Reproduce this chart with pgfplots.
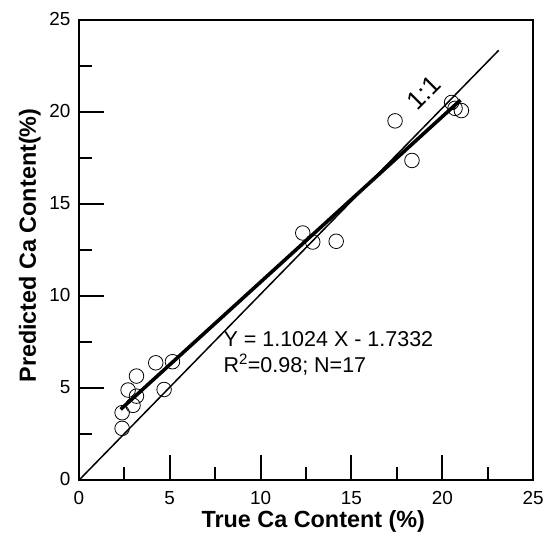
\documentclass[border=0pt]{standalone}
\usepackage{fontspec}
\setmainfont{Liberation Sans}
\usepackage{pgfplots}
\pgfplotsset{compat=1.18}
\begin{document}
\begin{tikzpicture}
\begin{axis}[
  scale only axis,
  width=455bp, height=461bp,
  xmin=0, xmax=25, ymin=0, ymax=25,
  xtick={0,5,...,25}, ytick={0,5,...,25},
  minor tick num=1,
  tick align=inside,
  xtick pos=bottom, ytick pos=left,
  major tick length=25bp, minor tick length=13bp,
  every tick/.style={black, line width=2pt},
  axis line style={line width=2pt},
  /pgf/number format/assume math mode=true,
  tick label style={font=\fontsize{19}{20}\selectfont},
  xticklabel style={yshift=-8bp},
  yticklabel style={xshift=-5bp, yshift=1bp},
  xlabel={\textbf{True Ca Content (\%)}},
  ylabel={\textbf{Predicted Ca Content(\%)}},
  label style={font=\fontsize{23.5}{25}\selectfont},
  xlabel style={at={(rel axis cs:0.516,-0.089)}, anchor=center},
  ylabel style={at={(rel axis cs:-0.108,0.51)}, anchor=center},
  clip=false,
]
\path (rel axis cs:-0.1736,-0.115) rectangle (rel axis cs:1.0286,1.0434);
% 1:1 line
\addplot[black, line width=1.5pt] coordinates {(0,0) (23.1,23.35)};
% fitted line
\addplot[black, line width=3.6pt] coordinates {(2.3,3.85) (21.0,20.65)};
% data
\addplot[only marks, mark=o, mark size=7.3bp, mark options={line width=0.8pt, black}] coordinates {
(2.38,2.82) (2.38,3.67) (2.71,4.90) (3.17,4.57) (2.98,4.07) (3.17,5.66)
(4.23,6.38) (5.15,6.44) (4.69,4.93)
(12.32,13.43) (12.87,12.94) (14.16,12.98)
(17.4,19.52) (18.33,17.37)
(20.51,20.52) (20.7,20.2) (21.05,20.08)
};
\node[anchor=west, font=\fontsize{21.6}{23}\selectfont, inner sep=0pt] at (axis cs:7.95,7.65) {Y = 1.1024 X - 1.7332};
\node[anchor=west, font=\fontsize{21.6}{23}\selectfont, inner sep=0pt] at (axis cs:7.95,6.29) {R\textsuperscript{2}=0.98; N=17};
\node[rotate=45, font=\fontsize{26}{27}\selectfont, inner sep=0pt] at (axis cs:19.0,21.05) {1:1};
\end{axis}
\end{tikzpicture}
\end{document}
